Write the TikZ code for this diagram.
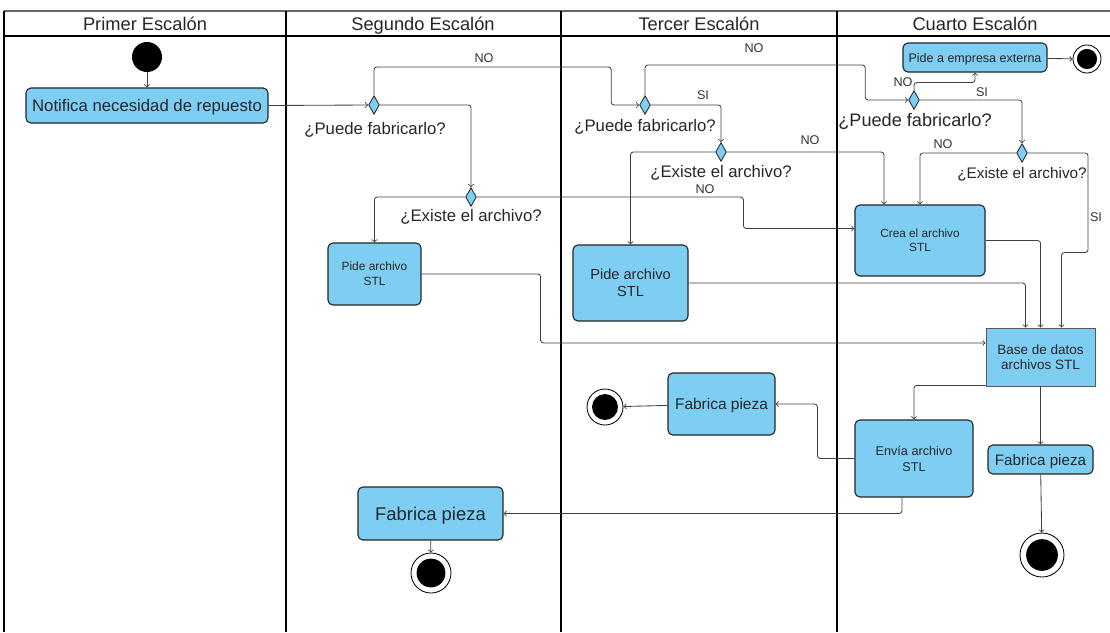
\documentclass[tikz,border=0pt]{standalone}
\usepackage{fontspec}
\setmainfont{Liberation Sans}
\usetikzlibrary{shapes.geometric,positioning,calc}
\definecolor{actblue}{RGB}{126,206,244}
\definecolor{linegray}{RGB}{64,64,64}

\begin{document}
\begin{tikzpicture}[x=0.025cm,y=-0.025cm,
  lane/.style={draw=black,line width=0.9pt},
  lanehead/.style={font=\fontsize{13}{15}\selectfont,text=black!85,text depth=0pt},
  act/.style={rectangle,rounded corners=3.5pt,draw=black!85,line width=0.8pt,fill=actblue,align=center,inner sep=2pt,text=black!85,text depth=0pt},
  dec/.style={diamond,draw=black!85,line width=0.6pt,fill=actblue,minimum width=0.27cm,minimum height=0.47cm,inner sep=0pt},
  question/.style={font=\fontsize{11.9}{14}\selectfont,text=black!85,inner sep=0pt,text depth=0pt},
  guard/.style={font=\fontsize{9}{10}\selectfont,text=black!80,inner sep=0pt},
  flow/.style={draw=linegray,line width=0.6pt,->,rounded corners=2pt},
  startdot/.style={circle,fill=black,minimum size=0.75cm,inner sep=0pt},
  enddot/.style={circle,draw=black,line width=0.6pt,fill=white,minimum size=#1,inner sep=0pt,
    path picture={\fill[black] (path picture bounding box.center) circle ({0.36*#1});}}
]
\useasboundingbox (0,0) rectangle (1110,632);
\clip (0,0) rectangle (1110,632);

% swimlanes
\draw[lane,draw=black!60,line width=1.2pt] (4,11) -- (1113,11);
\draw[lane] (4,36) -- (1113,36);
\foreach \x in {4,286,561,837}
  \draw[lane] (\x,11) -- (\x,632);
\node[lanehead] (lane1) at (145,24) {Primer Escalón};
\node[lanehead] (lane2) at (423,24) {Segundo Escalón};
\node[lanehead] (lane3) at (699,24) {Tercer Escalón};
\node[lanehead] (lane4) at (975,24) {Cuarto Escalón};

% primer escalon
\node[startdot] (start) at (147,57) {};
\node[act,minimum width=6.05cm,minimum height=0.875cm,font=\fontsize{11.9}{14}\selectfont] (notif) at (147,105.5) {Notifica necesidad de repuesto};

% segundo escalon
\node[dec] (puedeS) at (374,105) {};
\node[question] (puedeSq) at (375,128) {¿Puede fabricarlo?};
\node[dec] (existeS) at (471,197) {};
\node[question] (existeSq) at (471,215) {¿Existe el archivo?};
\node[act,minimum width=2.325cm,minimum height=1.55cm,font=\fontsize{8.5}{10.6}\selectfont] (pideS) at (374.5,274) {Pide archivo\\STL};
\node[act,minimum width=3.625cm,minimum height=1.325cm,font=\fontsize{13.1}{15}\selectfont] (fabS) at (430.5,513.5) {Fabrica pieza};
\node[enddot=1cm] (endS) at (431,573) {};

% tercer escalon
\node[dec] (puedeT) at (645,105) {};
\node[question] (puedeTq) at (645,125) {¿Puede fabricarlo?};
\node[dec] (existeT) at (721,152) {};
\node[question] (existeTq) at (721,171) {¿Existe el archivo?};
\node[act,minimum width=2.875cm,minimum height=1.9cm,font=\fontsize{10.4}{12}\selectfont] (pideT) at (630.5,283) {Pide archivo\\STL};
\node[act,minimum width=2.675cm,minimum height=1.55cm,font=\fontsize{11}{13}\selectfont] (fabT) at (721.5,404) {Fabrica pieza};
\node[enddot=0.9cm] (endT) at (605,407) {};

% cuarto escalon
\node[dec] (puedeC) at (914,100) {};
\node[question,font=\fontsize{12.9}{15}\selectfont] (puedeCq) at (915,120) {¿Puede fabricarlo?};
\node[act,minimum width=3.6cm,minimum height=0.725cm,font=\fontsize{8.9}{10}\selectfont] (pideExt) at (975,57.5) {Pide a empresa externa};
\node[enddot=0.7cm] (endExt) at (1087,59) {};
\node[dec] (existeC) at (1022,153) {};
\node[question,font=\fontsize{10.9}{13}\selectfont] (existeCq) at (1022,173) {¿Existe el archivo?};
\node[act,minimum width=3.25cm,minimum height=1.775cm,font=\fontsize{8.4}{10}\selectfont] (crea) at (920,240.5) {Crea el archivo\\STL};
\node[act,rounded corners=0pt,draw=black!65,line width=0.6pt,minimum width=2.725cm,minimum height=1.45cm,font=\fontsize{9.6}{10.6}\selectfont] (base) at (1040.5,357) {Base de datos\\archivos STL};
\node[act,minimum width=2.95cm,minimum height=1.925cm,font=\fontsize{9}{11.3}\selectfont] (envia) at (914,458.5) {Envía archivo\\STL};
\node[act,minimum width=2.625cm,minimum height=0.725cm,font=\fontsize{10.8}{12}\selectfont] (fabC) at (1040.5,459.5) {Fabrica pieza};
\node[enddot=1.1cm] (endC) at (1042,555) {};

% guards
\node[guard] (g1) at (484,58) {NO};
\node[guard] (g2) at (754,48) {NO};
\node[guard] (g3) at (703,95) {SI};
\node[guard] (g4) at (810,140) {NO};
\node[guard] (g5) at (705,189) {NO};
\node[guard] (g6) at (903,82) {NO};
\node[guard] (g7) at (982,92) {SI};
\node[guard] (g8) at (943,144) {NO};
\node[guard] (g9) at (1096,217) {SI};

% flows
\draw[flow] (start) -- (notif);
\draw[flow] (notif.east) -- (puedeS.west);
\draw[flow] (puedeS.north) |- ($(puedeT.west)+(-28,-38)$) |- (puedeT.west);
\draw[flow] (puedeS.east) -| (existeS.north);
\draw[flow] (existeS.west) -| (pideS.north);
\draw[flow] (existeS.east) -| ($(crea.west)+(-111,-12)$) -- ($(crea.west)+(0,-12)$);
\draw[flow] (pideS.east) -| ($(base.west)+(-445,-14)$) -- ($(base.west)+(0,-14)$);
\draw[flow] (puedeT.north) |- ($(puedeC.west)+(-43,-35)$) |- (puedeC.west);
\draw[flow] (puedeT.east) -| (existeT.north);
\draw[flow] (existeT.west) -| (pideT.north);
\draw[flow] (existeT.east) -| ($(crea.north)+(-36,0)$);
\draw[flow] (pideT.east) -| ($(base.north)+(-15,0)$);
\draw[flow] (puedeC.north) |- ($(pideExt.south)+(0,10)$) -- (pideExt.south);
\draw[flow] (pideExt) -- (endExt);
\draw[flow] (puedeC.east) -| (existeC.north);
\draw[flow] (existeC.west) -| (crea.north);
\draw[flow] (existeC.east) -| ($(base.north)+(47.5,-75)$) -| ($(base.north)+(21,0)$);
\draw[flow] (crea.east) -| (base.north);
\draw[flow] ($(base.south west)+(0,-1)$) -| (envia.north);
\draw[flow] (base) -- (fabC);
\draw[flow] (fabC) -- (endC);
\draw[flow] (envia.west) -- ++(-37,0) |- (fabT.east);
\draw[flow] (fabT) -- (endT);
\draw[flow] ($(envia.south)+(-12,0)$) |- (fabS.east);
\draw[flow] (fabS) -- (endS);
\end{tikzpicture}
\end{document}
